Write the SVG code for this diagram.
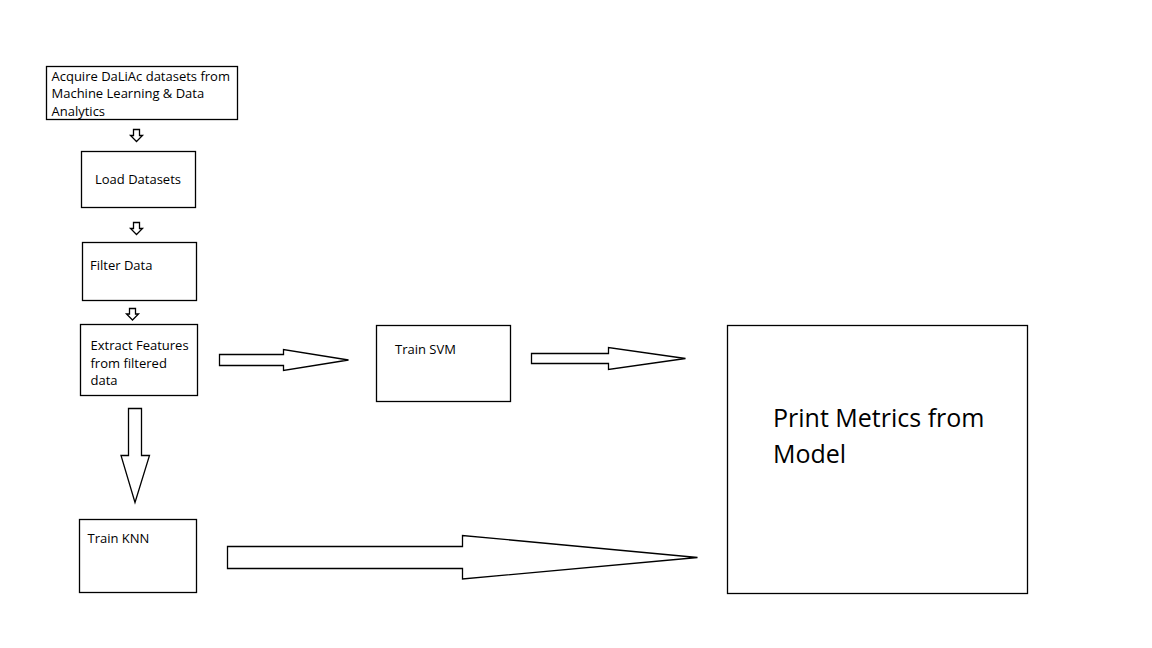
<svg xmlns="http://www.w3.org/2000/svg" width="1152" height="648" viewBox="0 0 1152 648">
<style>
.box{fill:#fff;stroke:#000;stroke-width:1.3}
.arr{fill:#fff;stroke:#000;stroke-width:1.3;stroke-linejoin:miter}
.t{font-family:"Open Sans","Noto Sans","Liberation Sans",sans-serif;font-size:13px;fill:#000}
.big{font-family:"Open Sans","Noto Sans","Liberation Sans",sans-serif;font-size:25px;fill:#000}
</style>
<rect width="1152" height="648" fill="#fff"/>
<g id="n-acquire">
<rect class="box" x="46.5" y="66.5" width="191" height="53"/>
<text class="t" x="51.5" y="80.5">Acquire DaLiAc datasets from</text>
<text class="t" x="51.5" y="98">Machine Learning &amp; Data</text>
<text class="t" x="51.5" y="115.5">Analytics</text>
</g>
<g id="n-load">
<rect class="box" x="81.5" y="151.5" width="114" height="56"/>
<text class="t" x="95" y="183.5">Load Datasets</text>
</g>
<g id="n-filter">
<rect class="box" x="82.5" y="242.5" width="114" height="58"/>
<text class="t" x="90" y="270">Filter Data</text>
</g>
<g id="n-extract">
<rect class="box" x="80.5" y="324.5" width="117" height="71"/>
<text class="t" x="90.5" y="350">Extract Features</text>
<text class="t" x="90.5" y="367.5">from filtered</text>
<text class="t" x="90.5" y="385">data</text>
</g>
<g id="n-svm">
<rect class="box" x="376.5" y="325.5" width="134" height="76"/>
<text class="t" x="395" y="354">Train SVM</text>
</g>
<g id="n-knn">
<rect class="box" x="79.5" y="519.5" width="117" height="73"/>
<text class="t" x="87.5" y="542.5">Train KNN</text>
</g>
<g id="n-print">
<rect class="box" x="727.5" y="325.5" width="300" height="268"/>
<text class="big" x="773" y="426.5">Print Metrics from</text>
<text class="big" x="773" y="462.5">Model</text>
</g>
<g id="connectors">
<polygon class="arr" points="133.5,129.5 139.5,129.5 139.5,135.5 142.5,135.5 136.5,141.5 130.5,135.5 133.5,135.5"/>
<polygon class="arr" points="133.5,222.5 139.5,222.5 139.5,228.5 142.5,228.5 136.5,234.5 130.5,228.5 133.5,228.5"/>
<polygon class="arr" points="129.5,308.5 135.5,308.5 135.5,314 138.5,314 132.5,320 126.5,314 129.5,314"/>
<polygon class="arr" points="128.5,408.5 141.5,408.5 141.5,455.5 149.5,455.5 135,502.5 121,455.5 128.5,455.5"/>
<polygon class="arr" points="219.5,354.5 283.5,354.5 283.5,349.5 348.5,360 283.5,370.5 283.5,365.5 219.5,365.5"/>
<polygon class="arr" points="531.5,353.5 608.5,353.5 608.5,347.5 685.5,358.5 608.5,369.5 608.5,363.5 531.5,363.5"/>
<polygon class="arr" points="227.5,546.5 462.5,546.5 462.5,535.5 697.5,557.5 462.5,579 462.5,568.5 227.5,568.5"/>
</g>
</svg>
